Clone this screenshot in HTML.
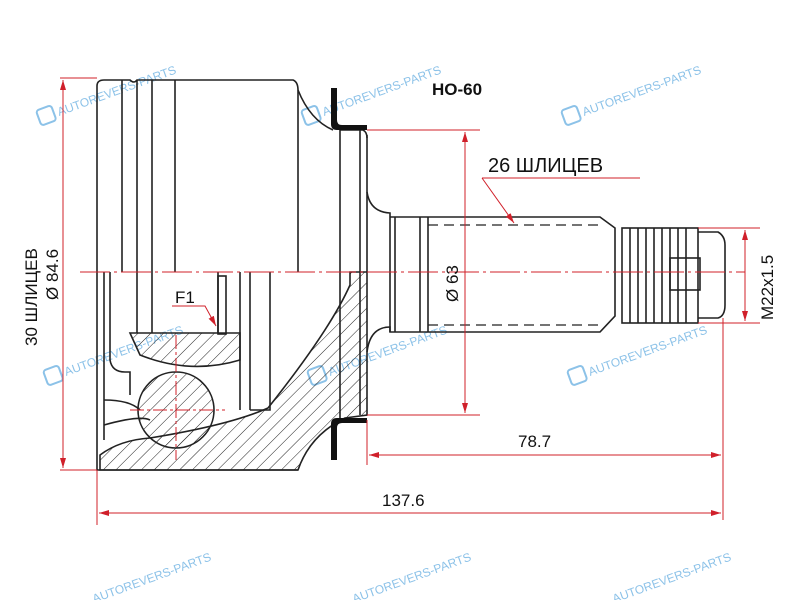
<!DOCTYPE html>
<html><head><meta charset="utf-8"><style>
html,body{margin:0;padding:0;background:#fff;}
svg{display:block}
text{font-family:"Liberation Sans",sans-serif;}
</style></head><body>
<svg width="800" height="600" viewBox="0 0 800 600" xmlns="http://www.w3.org/2000/svg">
<defs>
<pattern id="h" patternUnits="userSpaceOnUse" width="9" height="9" patternTransform="rotate(45)">
<line x1="0" y1="0" x2="0" y2="9" stroke="#222" stroke-width="1"/>
</pattern>
<marker id="a" markerWidth="10" markerHeight="6" refX="10" refY="3" orient="auto-start-reverse" markerUnits="userSpaceOnUse">
<path d="M0,0 L10,3 L0,6 z" fill="#d0202a"/>
</marker>
</defs>

<g fill="#7fbbe6" font-size="12" opacity="0.9">
<g transform="translate(45,118) rotate(-20)"><rect x="-6" y="-10" width="16" height="16" rx="3" fill="none" stroke="#7fbbe6" stroke-width="2"/><text x="14" y="3">AUTOREVERS-PARTS</text></g>
<g transform="translate(310,118) rotate(-20)"><rect x="-6" y="-10" width="16" height="16" rx="3" fill="none" stroke="#7fbbe6" stroke-width="2"/><text x="14" y="3">AUTOREVERS-PARTS</text></g>
<g transform="translate(570,118) rotate(-20)"><rect x="-6" y="-10" width="16" height="16" rx="3" fill="none" stroke="#7fbbe6" stroke-width="2"/><text x="14" y="3">AUTOREVERS-PARTS</text></g>
<g transform="translate(52,378) rotate(-20)"><rect x="-6" y="-10" width="16" height="16" rx="3" fill="none" stroke="#7fbbe6" stroke-width="2"/><text x="14" y="3">AUTOREVERS-PARTS</text></g>
<g transform="translate(316,378) rotate(-20)"><rect x="-6" y="-10" width="16" height="16" rx="3" fill="none" stroke="#7fbbe6" stroke-width="2"/><text x="14" y="3">AUTOREVERS-PARTS</text></g>
<g transform="translate(576,378) rotate(-20)"><rect x="-6" y="-10" width="16" height="16" rx="3" fill="none" stroke="#7fbbe6" stroke-width="2"/><text x="14" y="3">AUTOREVERS-PARTS</text></g>
<g transform="translate(80,605) rotate(-20)"><text x="14" y="3">AUTOREVERS-PARTS</text></g>
<g transform="translate(340,605) rotate(-20)"><text x="14" y="3">AUTOREVERS-PARTS</text></g>
<g transform="translate(600,605) rotate(-20)"><text x="14" y="3">AUTOREVERS-PARTS</text></g>
</g>

<g stroke="#222" stroke-width="1.6" fill="url(#h)">
<path d="M350,272 L367,272 L367,415 L345,418 Q310,435 298,470 L100,470 L100,455 Q120,440 150,438 Q230,425 268,408 Q330,330 350,285 Z"/>
<path d="M130,333 L240,333 L240,360 Q190,375 140,355 Z"/>
<circle cx="176" cy="410" r="38"/>
</g>

<g stroke="#222" stroke-width="1.6" fill="none">
<path d="M97,272 L97,86 Q97,80 104,80 L130,80 Q134,84 137,80 L152,80 L175,80"/>
<path d="M122,80 L122,272 M137,80 L137,272 M152,80 L152,272"/>
<path d="M175,80 L293,80 Q298,82 298,90 L298,272 M175,80 L175,272"/>
<path d="M298,90 Q310,120 333,130"/>
<path d="M340,130 L340,272 M360,130 L360,272 M367,135 L367,272"/>
<path d="M340,130 L363,130 Q367,132 367,138"/>
<path d="M367,192 Q370,212 390,213 L390,217"/>
<path d="M97,272 L97,470 L298,470"/>
<path d="M104,272 L104,440 M110,272 L110,360 Q112,372 125,372 L130,372 L130,395"/>
<path d="M137,272 L137,333 M152,272 L152,333 M218,272 L218,333 M240,272 L240,410 M250,272 L250,410 M270,272 L270,410 L250,410"/>
<rect x="218" y="276" width="8" height="58"/>
<path d="M104,400 Q130,400 140,410 M104,425 Q140,415 150,420"/>
<path d="M340,272 L340,420 M360,272 L360,415"/>
<path d="M390,217 L600,217 L615,228 L615,316 L600,332 L390,332 L390,327 Q370,327 367,352"/>
<path d="M390,217 L390,332 M395,217 L395,332 M420,217 L420,332 M428,217 L428,332"/>
<path d="M428,225 L600,225 M428,325 L600,325" stroke-dasharray="10,6" stroke-width="1.2"/>
<rect x="622" y="228" width="76" height="95"/>
<path d="M630,228v95M638,228v95M646,228v95M654,228v95M662,228v95M670,228v95M678,228v95M686,228v95"/>
<path d="M698,232 L718,232 Q725,236 725,245 L725,305 Q725,316 718,318 L698,318"/>
<rect x="670" y="258" width="30" height="32"/>
</g>
<g fill="#111">
<path d="M331,88 h6 v32 q0,5 5,5 h25 v5 h-30 q-6,0 -6,-6 z"/>
<path d="M331,460 h6 v-32 q0,-5 5,-5 h25 v-5 h-30 q-6,0 -6,6 z"/>
</g>

<g stroke="#d0202a" stroke-width="1" fill="none">
<path d="M80,272 L745,272" stroke-dasharray="30,4,3,4"/>
<path d="M176,335 V460 M130,410 H225" stroke-dasharray="14,3,3,3"/>
<path d="M60,78 H97 M60,470 H97"/>
<path d="M63,80 V468" marker-start="url(#a)" marker-end="url(#a)"/>
<path d="M367,130 H480 M367,415 H480"/>
<path d="M465,132 V413" marker-start="url(#a)" marker-end="url(#a)"/>
<path d="M367,420 V465 M723,318 V520 M97,470 V525"/>
<path d="M369,455 H721" marker-start="url(#a)" marker-end="url(#a)"/>
<path d="M99,513 H721" marker-start="url(#a)" marker-end="url(#a)"/>
<path d="M698,228 H760 M698,323 H760"/>
<path d="M745,230 V321" marker-start="url(#a)" marker-end="url(#a)"/>
<path d="M482,178 H640 M482,178 L514,223" marker-end="url(#a)"/>
<path d="M172,306 H205 L216,326" marker-end="url(#a)"/>
</g>

<g fill="#111">
<text x="432" y="95" font-size="17" font-weight="bold">HO-60</text>
<text x="488" y="172" font-size="20">26 ШЛИЦЕВ</text>
<text x="175" y="303" font-size="17">F1</text>
<text x="518" y="447" font-size="17">78.7</text>
<text x="382" y="506" font-size="17">137.6</text>
<text transform="translate(458,302) rotate(-90)" font-size="17">Ø 63</text>
<text transform="translate(773,320) rotate(-90)" font-size="17">M22x1.5</text>
<text transform="translate(58,300) rotate(-90)" font-size="17">Ø 84.6</text>
<text transform="translate(37,346) rotate(-90)" font-size="17">30 ШЛИЦЕВ</text>
</g>
</svg>
</body></html>
